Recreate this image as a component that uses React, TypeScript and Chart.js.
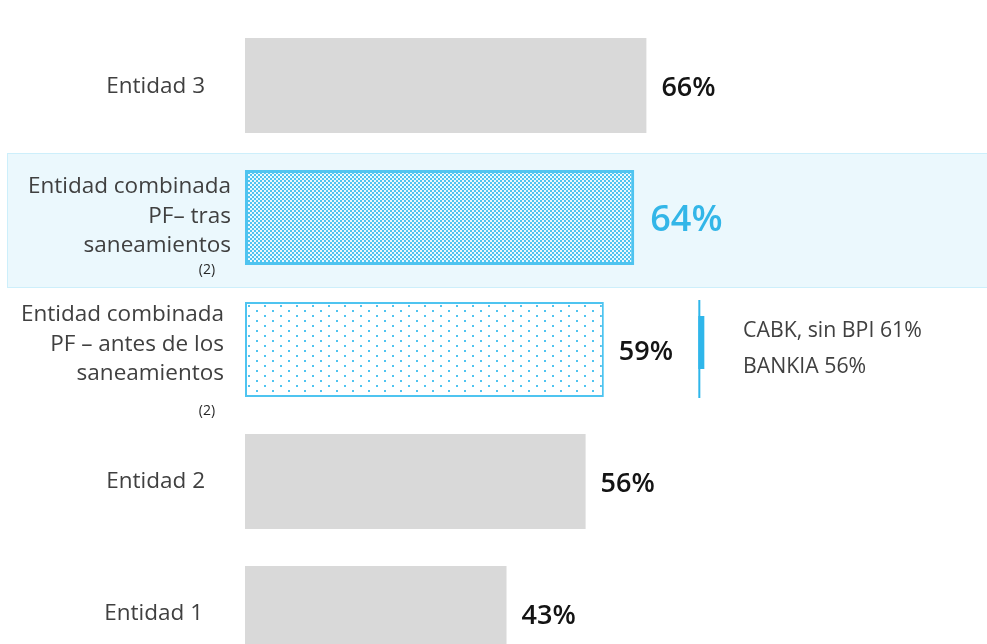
import React, { useEffect, useRef } from "react";
import { Chart, registerables } from "chart.js";

Chart.register(...registerables);

const categories: string[][] = [
  ["Entidad 3"],
  ["Entidad combinada", "PF– tras", "saneamientos"],
  ["Entidad combinada", "PF – antes de los", "saneamientos"],
  ["Entidad 2"],
  ["Entidad 1"],
];
const footnotes = ["", "(2)", "(2)", "", ""];
const values = [66, 64, 59, 56, 43];
const valueLabels = ["66%", "64%", "59%", "56%", "43%"];
const annotationLines = ["CABK, sin BPI 61%", "BANKIA 56%"];

const FONT = "'Open Sans', 'Noto Sans', sans-serif";
const CYAN = "#4FC4F0";
const GREY = "#D9D9D9";

function checkerPattern(): CanvasPattern | string {
  const c = document.createElement("canvas");
  c.width = 4;
  c.height = 4;
  const g = c.getContext("2d");
  if (!g) return CYAN;
  g.fillStyle = CYAN;
  g.fillRect(0, 0, 2, 2);
  g.fillRect(2, 2, 2, 2);
  const ctx = document.createElement("canvas").getContext("2d")!;
  return ctx.createPattern(c, "repeat") || CYAN;
}

function dotPattern(): CanvasPattern | string {
  const c = document.createElement("canvas");
  c.width = 16;
  c.height = 10;
  const g = c.getContext("2d");
  if (!g) return "#fff";
  g.fillStyle = "#ffffff";
  g.fillRect(0, 0, 16, 10);
  g.fillStyle = CYAN;
  g.fillRect(0, 0, 2, 2);
  g.fillRect(8, 5, 2, 2);
  const ctx = document.createElement("canvas").getContext("2d")!;
  return ctx.createPattern(c, "repeat") || "#fff";
}

const labelRightX = [205, 231, 224, 205, 203];
const labelShiftY = [1, -1, -5, 0, 0];

const decorPlugin = {
  id: "decor",
  beforeDatasetsDraw(chart: any) {
    const ctx = chart.ctx;
    const y = chart.scales.y;
    const c = y.getPixelForValue(1);
    ctx.save();
    ctx.fillStyle = "#EBF8FD";
    ctx.fillRect(7, c - 64.5, 980, 135);
    ctx.strokeStyle = "#CDEFFB";
    ctx.lineWidth = 1;
    ctx.strokeRect(7.5, c - 64, 990, 134);
    ctx.restore();
  },
  afterDraw(chart: any) {
    const ctx = chart.ctx;
    const x = chart.scales.x;
    const y = chart.scales.y;
    ctx.save();
    // category labels
    categories.forEach((lines, i) => {
      const c = y.getPixelForValue(i) + labelShiftY[i];
      const lh = 29.5;
      ctx.font = `22.5px ${FONT}`;
      ctx.fillStyle = "#404040";
      ctx.textAlign = "right";
      ctx.textBaseline = "middle";
      const start = c - ((lines.length - 1) * lh) / 2;
      lines.forEach((t, k) => ctx.fillText(t, labelRightX[i], start + k * lh));
      if (footnotes[i]) {
        ctx.font = `14px ${FONT}`;
        ctx.fillStyle = "#262626";
        ctx.textAlign = "center";
        const fy = i === 1 ? start + 2 * lh + 24 : start + 2 * lh + 37;
        ctx.fillText(footnotes[i], 207, fy);
      }
    });
    // value labels
    values.forEach((v, i) => {
      const px = x.getPixelForValue(v);
      const c = y.getPixelForValue(i);
      ctx.textAlign = "left";
      ctx.textBaseline = "middle";
      if (i === 1) {
        ctx.font = `600 36px ${FONT}`;
        ctx.fillStyle = "#33B6E8";
        ctx.fillText(valueLabels[i], px + 16, c + 3);
      } else {
        ctx.font = `600 27px ${FONT}`;
        ctx.fillStyle = "#141414";
        ctx.fillText(valueLabels[i], px + 15, c + 3);
      }
    });
    // annotation bracket
    const ax = x.getPixelForValue(74.7);
    const ac = y.getPixelForValue(2);
    ctx.fillStyle = "#2FB6EA";
    ctx.fillRect(ax - 1, ac - 49.5, 2, 98);
    ctx.fillRect(ax - 1, ac - 33.5, 6, 53);
    ctx.font = `21.3px ${FONT}`;
    ctx.fillStyle = "#404040";
    ctx.textAlign = "left";
    ctx.textBaseline = "middle";
    annotationLines.forEach((t, k) => ctx.fillText(t, 743, ac - 19 + k * 36));
    ctx.restore();
  },
};

export default function App() {
  const ref = useRef<HTMLCanvasElement>(null);
  useEffect(() => {
    if (!ref.current) return;
    const chart = new Chart(ref.current, {
      type: "bar",
      data: {
        labels: categories.map((l) => l.join(" ")),
        datasets: [
          {
            data: values,
            backgroundColor: [GREY, checkerPattern(), dotPattern(), GREY, GREY] as any,
            borderColor: ["rgba(0,0,0,0)", CYAN, CYAN, "rgba(0,0,0,0)", "rgba(0,0,0,0)"],
            borderWidth: [0, 3, 2, 0, 0],
            borderSkipped: false,
            barPercentage: 0.72,
            categoryPercentage: 1,
          },
        ],
      },
      options: {
        indexAxis: "y",
        animation: false,
        responsive: false,
        maintainAspectRatio: false,
        layout: { padding: { left: 245, right: 0, top: 19.5, bottom: 20.5 } },
        scales: {
          x: { display: false, min: 0, max: 122 },
          y: { display: false },
        },
        plugins: {
          legend: { display: false },
          tooltip: { enabled: false },
        },
      },
      plugins: [decorPlugin],
    });
    return () => chart.destroy();
  }, []);
  return (
    <div
      style={{
        position: "fixed",
        left: 0,
        top: 0,
        width: 987,
        height: 644,
        overflow: "hidden",
        background: "#ffffff",
      }}
    >
      <canvas ref={ref} width={987} height={700} style={{ display: "block" }} />
    </div>
  );
}
